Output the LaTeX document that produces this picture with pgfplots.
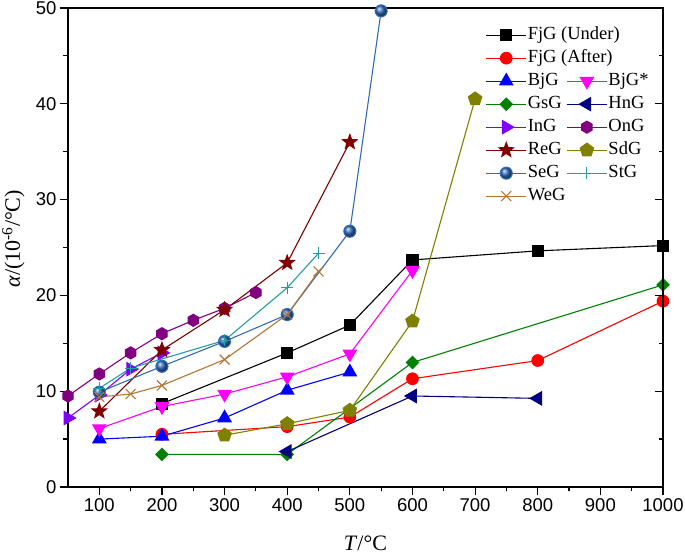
\documentclass[border=0pt]{standalone}
\usepackage{pgfplots}
\pgfplotsset{compat=1.18}
\usepackage{fontspec}
\setmainfont{Liberation Serif}
\newfontfamily\arial{Liberation Sans}
\usetikzlibrary{plotmarks}

\definecolor{cBjs}{RGB}{255,0,255}
\definecolor{cInG}{RGB}{128,0,255}
\definecolor{cOnG}{RGB}{128,0,128}
\definecolor{cReG}{RGB}{128,0,0}
\definecolor{cSdG}{RGB}{128,128,0}
\definecolor{cSeG}{RGB}{49,106,184}
\definecolor{cStG}{RGB}{36,158,158}
\definecolor{cWeG}{RGB}{178,118,52}
\definecolor{cGsG}{RGB}{0,128,0}
\definecolor{cHnG}{RGB}{0,0,128}

% filled hexagon
\pgfdeclareplotmark{hexagon*}{%
  \pgfpathmoveto{\pgfpointpolar{90}{\pgfplotmarksize}}%
  \pgfpathlineto{\pgfpointpolar{150}{\pgfplotmarksize}}%
  \pgfpathlineto{\pgfpointpolar{210}{\pgfplotmarksize}}%
  \pgfpathlineto{\pgfpointpolar{270}{\pgfplotmarksize}}%
  \pgfpathlineto{\pgfpointpolar{330}{\pgfplotmarksize}}%
  \pgfpathlineto{\pgfpointpolar{30}{\pgfplotmarksize}}%
  \pgfpathclose\pgfusepathqfillstroke}
% filled five point star
\pgfdeclareplotmark{fstar}{%
  \pgfpathmoveto{\pgfpointpolar{90}{\pgfplotmarksize}}%
  \pgfpathlineto{\pgfpointpolar{126}{0.42\pgfplotmarksize}}%
  \pgfpathlineto{\pgfpointpolar{162}{\pgfplotmarksize}}%
  \pgfpathlineto{\pgfpointpolar{198}{0.42\pgfplotmarksize}}%
  \pgfpathlineto{\pgfpointpolar{234}{\pgfplotmarksize}}%
  \pgfpathlineto{\pgfpointpolar{270}{0.42\pgfplotmarksize}}%
  \pgfpathlineto{\pgfpointpolar{306}{\pgfplotmarksize}}%
  \pgfpathlineto{\pgfpointpolar{342}{0.42\pgfplotmarksize}}%
  \pgfpathlineto{\pgfpointpolar{18}{\pgfplotmarksize}}%
  \pgfpathlineto{\pgfpointpolar{54}{0.42\pgfplotmarksize}}%
  \pgfpathclose\pgfusepathqfillstroke}

\begin{document}
\begin{tikzpicture}
\begin{axis}[
  width=595pt, height=479pt, scale only axis,
  xmin=50, xmax=1000, ymin=0, ymax=50,
  xtick={100,200,...,1000}, ytick={0,10,...,50},
  minor x tick num=1, minor y tick num=1,
  tick pos=left, tick align=outside,
  major tick length=8pt, minor tick length=4.5pt,
  every tick/.style={black, line width=1.2pt},
  axis line style={line width=1.3pt},
  /pgf/number format/assume math mode=true,
  /pgf/number format/1000 sep={},
  tick label style={font=\arial\fontsize{18.5}{18.5}\selectfont},
  xlabel={\textit{T}/°C},
  ylabel={\textit{α}/(10\textsuperscript{-6}/°C)},
  label style={font=\fontsize{22}{22}\selectfont},
  xlabel style={at={(axis description cs:0.5,-0.1318)}, anchor=base},
  ylabel style={at={(axis description cs:-0.092,0.518)}, anchor=center},
  clip=false,
  every axis plot/.append style={line width=1.1pt},
  legend columns=2, legend cell align=left,
  legend image code/.code={\draw[mark repeat=2,mark phase=2] plot coordinates {(0pt,0pt) (20pt,0pt) (40pt,0pt)};},
  legend style={draw=none, fill=none, at={(0.7017,0.9625)}, anchor=north west,
    font=\fontsize{18.5}{21}\selectfont, row sep=5pt, inner sep=0pt,
    nodes={inner sep=1pt, text height=12pt, text depth=4pt},
    /tikz/every even column/.append style={column sep=0pt}},
]
\addplot[black, mark=square*, mark size=5.5pt] coordinates {
  (200,8.7) (400,14.0) (500,16.9) (600,23.7) (800,24.65) (1000,25.2)};
\addlegendentry{\makebox[0pt][l]{FjG (Under)}}
\addlegendimage{empty legend}\addlegendentry{}
\addplot[red, mark=*, mark size=5.8pt] coordinates {
  (200,5.5) (400,6.3) (500,7.3) (600,11.3) (800,13.2) (1000,19.4)};
\addlegendentry{\makebox[0pt][l]{FjG (After)}}
\addlegendimage{empty legend}\addlegendentry{}
\addplot[blue, mark=triangle*, mark size=7.5pt] coordinates {
  (100,5.0) (200,5.3) (300,7.2) (400,10.1) (500,12.0)};
\addlegendentry{BjG}
\addplot[cBjs, mark=triangle*, mark size=7.5pt, mark options={rotate=180}] coordinates {
  (100,6.1) (200,8.4) (300,9.7) (400,11.5) (500,13.9) (600,22.6)};
\addlegendentry{BjG*}
\addplot[cGsG, mark=square*, mark size=4.3pt, mark options={rotate=45}] coordinates {
  (200,3.4) (400,3.4) (600,13.0) (1000,21.1)};
\addlegendentry{GsG}
\addplot[cHnG, mark=triangle*, mark size=7.5pt, mark options={rotate=90}] coordinates {
  (400,3.7) (600,9.5) (800,9.25)};
\addlegendentry{HnG}
\addplot[cInG, mark=triangle*, mark size=7.5pt, mark options={rotate=-90}] coordinates {
  (50,7.2) (100,9.6) (150,12.3) (200,14.0)};
\addlegendentry{InG}
\addplot[cOnG, mark=hexagon*, mark size=6pt] coordinates {
  (50,9.5) (100,11.8) (150,14.0) (200,16.0) (250,17.4) (300,18.65) (350,20.3)};
\addlegendentry{OnG}
\addplot[cReG, mark=fstar, mark size=7.5pt] coordinates {
  (100,7.9) (200,14.3) (300,18.5) (400,23.4) (500,36.0)};
\addlegendentry{ReG}
\addplot[cSdG, mark=pentagon*, mark size=7pt] coordinates {
  (300,5.4) (400,6.6) (500,8.0) (600,17.3) (700,40.5)};
\addlegendentry{SdG}
\addplot[cSeG, mark=ball, mark size=6pt, mark options={ball color=cSeG}] coordinates {
  (100,9.9) (200,12.6) (300,15.2) (400,18.0) (500,26.7) (550,49.7)};
\addlegendentry{SeG}
\addplot[cStG, mark=+, mark size=6pt] coordinates {
  (100,10.3) (150,12.4) (300,15.3) (400,20.8) (450,24.4)};
\addlegendentry{StG}
\addplot[cWeG, mark=x, mark size=7pt] coordinates {
  (100,9.4) (150,9.7) (200,10.6) (300,13.3) (400,18.0) (450,22.5)};
\addlegendentry{WeG}
\coordinate (sw) at (rel axis cs:0,0);
\coordinate (ne) at (rel axis cs:1,1);
\end{axis}
\begin{axis}[
  width=595pt, height=479pt, scale only axis,
  xmin=50, xmax=1000, ymin=0, ymax=50,
  axis x line=none, axis y line*=right,
  ytick={0,10,...,50}, minor y tick num=1, yticklabels={},
  tick align=inside,
  major tick length=8pt, minor tick length=4.5pt,
  every tick/.style={black, line width=1.2pt},
  axis line style={line width=1.3pt},
]
\end{axis}
\pgfresetboundingbox
\path[use as bounding box] ([shift={(-68pt,-69pt)}]sw) rectangle ([shift={(22pt,8pt)}]ne);
\end{tikzpicture}
\end{document}
